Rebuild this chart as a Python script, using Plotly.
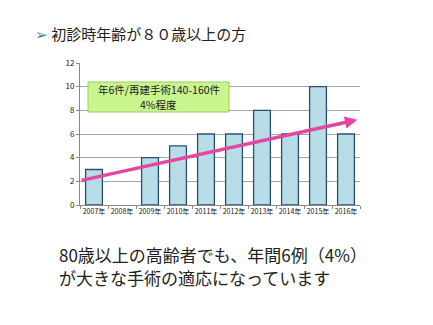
import plotly.graph_objects as go

years = ["2007年", "2008年", "2009年", "2010年", "2011年", "2012年", "2013年", "2014年", "2015年", "2016年"]
cases = [3, 0, 4, 5, 6, 6, 8, 6, 10, 6]
trend_start = 2.05
trend_end = 7.2
y_ticks = [0, 2, 4, 6, 8, 10, 12]

title_text = "初診時年齢が８０歳以上の方"
box_lines = ["年6件/再建手術140-160件", "4%程度"]
note_lines = ["80歳以上の高齢者でも、年間6例（4%）", "が大きな手術の適応になっています"]

JP = "Noto Sans CJK JP, Noto Sans, sans-serif"

W, H = 433, 325
L, R, T, B = 80, 73, 63, 120
PW, PH = W - L - R, H - T - B


def px(x):
    return (x - L) / PW


def py(y):
    return (H - B - y) / PH


fig = go.Figure()
fig.add_trace(go.Bar(
    x=years, y=cases, width=0.6,
    marker=dict(color="#b7dee6",
                line=dict(color="#2c4d7a", width=[1.3 if v > 0 else 0 for v in cases])),
))

fig.add_annotation(
    x=9.4, y=trend_end, ax=-0.5, ay=trend_start,
    xref="x", yref="y", axref="x", ayref="y",
    showarrow=True, arrowhead=2, arrowsize=0.7, arrowwidth=3.5,
    arrowcolor="#e4479f", text="",
)

fig.add_shape(
    type="rect", xref="paper", yref="paper",
    x0=px(88), x1=px(229), y0=py(82), y1=py(112),
    fillcolor="#c9f58f", line=dict(color="#9ccd5a", width=1),
)
for line, yy in zip(box_lines, [89, 104]):
    fig.add_annotation(
        x=px(158.5), y=py(yy), xref="paper", yref="paper",
        xanchor="center", yanchor="middle", showarrow=False, borderpad=0,
        text=line, font=dict(family=JP, size=10.5, color="#222"),
    )

fig.add_annotation(
    x=px(33), y=py(33), xref="paper", yref="paper",
    xanchor="left", yanchor="middle", showarrow=False,
    text="<span style='color:#3a8c9a'>➢</span> " + title_text,
    font=dict(family=JP, size=15, color="#222"),
)
for line, yy in zip(note_lines, [254, 277]):
    fig.add_annotation(
        x=px(58), y=py(yy), xref="paper", yref="paper",
        xanchor="left", yanchor="middle", showarrow=False, align="left", borderpad=0,
        text=line, font=dict(family=JP, size=17, color="#222"),
    )

fig.update_layout(
    width=W, height=H,
    margin=dict(l=L, r=R, t=T, b=B),
    paper_bgcolor="white", plot_bgcolor="white",
    showlegend=False,
    xaxis=dict(
        type="category", tickson="boundaries", ticks="outside", ticklen=3,
        tickcolor="#888", showline=True, linecolor="#888", showgrid=False,
        tickfont=dict(family=JP, size=7, color="#111"), tickangle=0,
        range=[-0.5, 9.5],
    ),
    yaxis=dict(
        range=[0, 12], tickvals=y_ticks, ticks="outside", ticklen=3,
        tickcolor="#888", showline=True, linecolor="#888",
        gridcolor="#a6a6a6", gridwidth=1,
        tickfont=dict(family=JP, size=8, color="#222"),
        zeroline=False,
    ),
)

fig.write_html("out.html")
